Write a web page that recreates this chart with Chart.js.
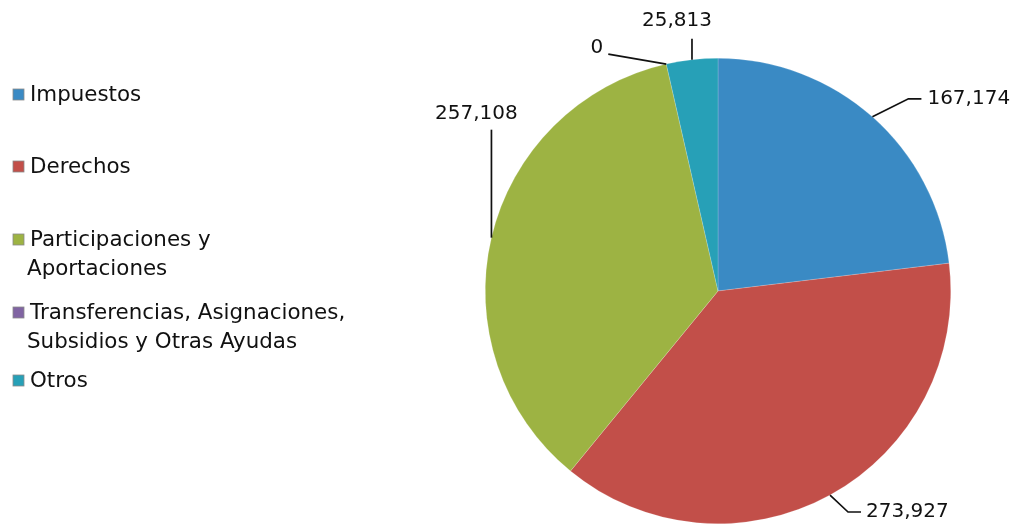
<!DOCTYPE html>
<html>
<head>
<meta charset="utf-8">
<script src="https://cdn.jsdelivr.net/npm/chart.js@4"></script>
<style>
  html, body { margin: 0; padding: 0; background: #ffffff; }
  #wrap { width: 1016px; height: 526px; }
</style>
</head>
<body>
<div id="wrap"><canvas id="pieChart" width="1016" height="526"></canvas></div>
<script>
// Categories (legend lines) and values
const categories = [
  ['Impuestos'],
  ['Derechos'],
  ['Participaciones y', 'Aportaciones'],
  ['Transferencias, Asignaciones,', 'Subsidios y Otras Ayudas'],
  ['Otros']
];
const values = [167174, 273927, 257108, 0, 25813];
const valueLabels = ['167,174', '273,927', '257,108', '0', '25,813'];
const colors = ['#3a8ac4', '#c24f49', '#9db343', '#8064a2', '#27a0b7'];

const FONT = '20px "DejaVu Sans", Verdana, sans-serif';
const LEGEND_FONT = '21.4px "DejaVu Sans", Verdana, sans-serif';

// leader line styles per slice: elbow offset from arc point, then text placement
const leaderStyle = [
  { ex: 36, ey: -18, hx: 13, align: 'left', tx: 6, ty: 0 },
  { ex: 18, ey: 17, hx: 13, align: 'left', tx: 5, ty: 0 },
  { ex: 0, ey: -108, hx: 0, align: 'center', tx: -15, ty: -16 },
  { ex: -58, ey: -10, hx: 0, align: 'right', tx: -5, ty: -6 },
  { ex: 0, ey: -21, hx: 0, align: 'center', tx: -15, ty: -18 }
];
// legend row positions (first line of each entry)
const legendRows = [95, 167, 240, 313, 381];

const labelPlugin = {
  id: 'labelPlugin',
  afterDraw(chart) {
    const ctx = chart.ctx;
    const meta = chart.getDatasetMeta(0);
    ctx.save();
    ctx.font = FONT;
    ctx.fillStyle = '#111111';
    ctx.strokeStyle = '#111111';
    ctx.lineWidth = 1.7;
    ctx.textBaseline = 'middle';
    meta.data.forEach((arc, i) => {
      const p = arc.getProps(['x', 'y', 'startAngle', 'endAngle', 'outerRadius'], true);
      const mid = (p.startAngle + p.endAngle) / 2;
      const ax = p.x + Math.cos(mid) * p.outerRadius;
      const ay = p.y + Math.sin(mid) * p.outerRadius;
      const s = leaderStyle[i];
      const ex = ax + s.ex, ey = ay + s.ey;
      ctx.beginPath();
      ctx.moveTo(ax, ay);
      ctx.lineTo(ex, ey);
      if (s.hx) ctx.lineTo(ex + s.hx, ey);
      ctx.stroke();
      ctx.textAlign = s.align;
      ctx.fillText(valueLabels[i], ex + s.hx + s.tx, ey + s.ty);
    });

    // legend on the left
    ctx.font = LEGEND_FONT;
    categories.forEach((lines, i) => {
      const y = legendRows[i];
      ctx.fillStyle = colors[i];
      ctx.fillRect(13, y - 6, 11, 11);
      ctx.strokeStyle = '#8a8a8a';
      ctx.lineWidth = 0.8;
      ctx.strokeRect(13, y - 6, 11, 11);
      ctx.fillStyle = '#111111';
      ctx.textAlign = 'left';
      lines.forEach((ln, j) => {
        ctx.fillText(ln, j === 0 ? 30 : 27, y + j * 29);
      });
    });
    ctx.restore();
  }
};

const ctx = document.getElementById('pieChart').getContext('2d');
new Chart(ctx, {
  type: 'pie',
  data: {
    labels: categories.map(c => c.join(' ')),
    datasets: [{
      data: values,
      backgroundColor: colors,
      borderColor: 'rgba(255,255,255,0.35)',
      borderWidth: 0.5
    }]
  },
  options: {
    responsive: false,
    animation: false,
    layout: { padding: { left: 485, right: 65, top: 58, bottom: 2 } },
    plugins: {
      legend: { display: false },
      tooltip: { enabled: false }
    }
  },
  plugins: [labelPlugin]
});
</script>
</body>
</html>
